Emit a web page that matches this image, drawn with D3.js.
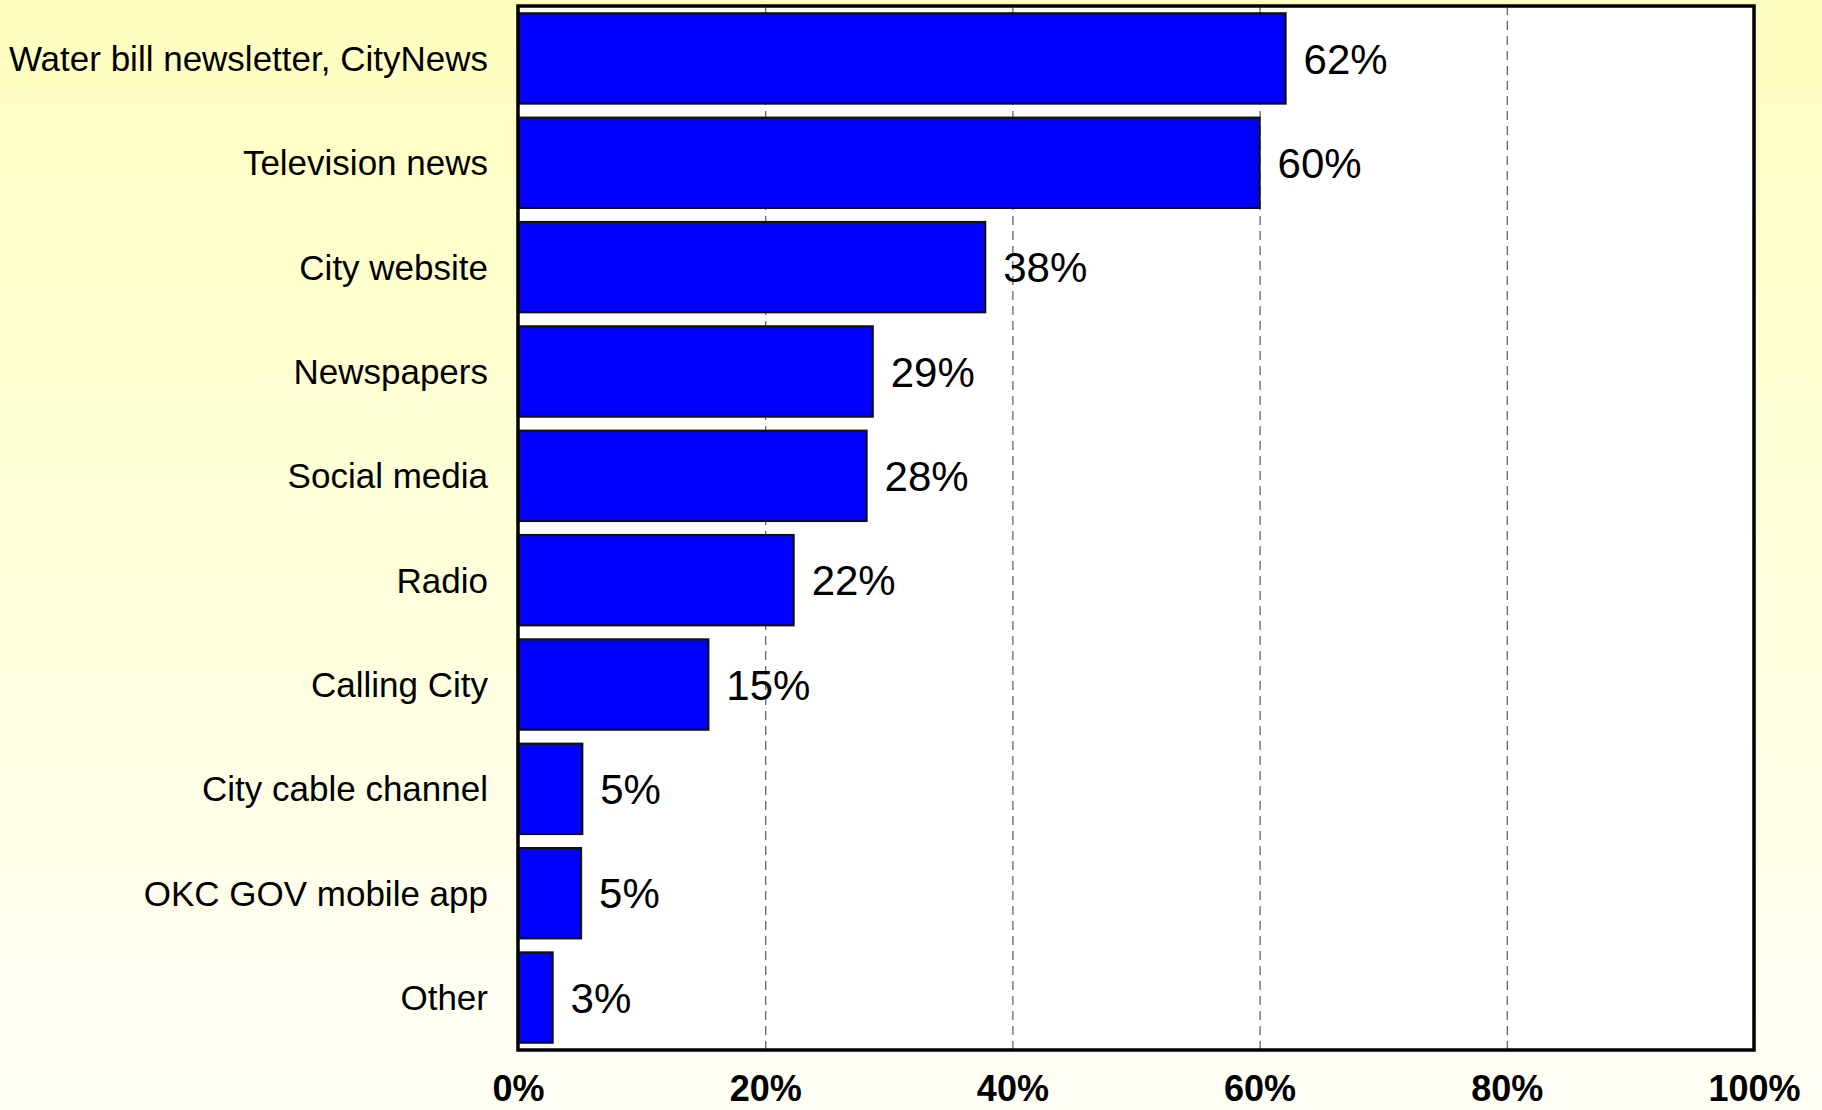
<!DOCTYPE html>
<html>
<head>
<meta charset="utf-8">
<script src="https://cdn.jsdelivr.net/npm/d3@7"></script>
<style>
html, body { margin: 0; padding: 0; }
body { width: 1822px; height: 1110px; overflow: hidden; }
</style>
</head>
<body>
<svg id="chart" width="1822" height="1110"></svg>
<script>
const categories = ["Water bill newsletter, CityNews", "Television news", "City website", "Newspapers", "Social media", "Radio", "Calling City", "City cable channel", "OKC GOV mobile app", "Other"];
const values = [62.1, 60.0, 37.8, 28.7, 28.2, 22.3, 15.4, 5.2, 5.1, 2.8];
const valueLabels = ["62%", "60%", "38%", "29%", "28%", "22%", "15%", "5%", "5%", "3%"];
const tickValues = [0, 20, 40, 60, 80, 100];
const tickLabels = ["0%", "20%", "40%", "60%", "80%", "100%"];

const W = 1822, H = 1110;
const plot = { left: 518, right: 1754, top: 6, bottom: 1050 };

const svg = d3.select("#chart");
const defs = svg.append("defs");
const grad = defs.append("linearGradient").attr("id", "bg").attr("x1", 0).attr("y1", 0).attr("x2", 0).attr("y2", 1);
grad.append("stop").attr("offset", "0%").attr("stop-color", "#FFFFC0");
grad.append("stop").attr("offset", "100%").attr("stop-color", "#FFFFF6");
svg.append("rect").attr("width", W).attr("height", H).attr("fill", "url(#bg)");

const x = d3.scaleLinear().domain([0, 100]).range([plot.left, plot.right]);
const y = d3.scaleBand().domain(categories).range([plot.top, plot.bottom]).paddingInner(0.135).paddingOuter(0.07);

// plot background
svg.append("rect").attr("x", plot.left).attr("y", plot.top)
  .attr("width", plot.right - plot.left).attr("height", plot.bottom - plot.top)
  .attr("fill", "#FFFFFF");

// gridlines
svg.append("g").selectAll("line").data(tickValues.filter(t => t > 0 && t < 100)).join("line")
  .attr("x1", d => x(d) + 0.5).attr("x2", d => x(d) + 0.5)
  .attr("y1", plot.top).attr("y2", plot.bottom)
  .attr("stroke", "#666").attr("stroke-width", 1.3).attr("stroke-dasharray", "9,6");

// bars
svg.append("g").selectAll("rect").data(values).join("rect")
  .attr("x", x(0))
  .attr("y", (d, i) => y(categories[i]))
  .attr("width", d => x(d) - x(0))
  .attr("height", y.bandwidth())
  .attr("fill", "#0000FF").attr("stroke", "#111").attr("stroke-width", 2.2);

// value labels
svg.append("g").selectAll("text").data(values).join("text")
  .attr("x", d => x(d) + 18)
  .attr("y", (d, i) => y(categories[i]) + y.bandwidth() / 2)
  .attr("dy", "0.36em")
  .attr("font-family", "Liberation Sans, Arial, sans-serif")
  .attr("font-size", 42).attr("fill", "#000")
  .text((d, i) => valueLabels[i]);

// frame
svg.append("rect").attr("x", plot.left).attr("y", plot.top)
  .attr("width", plot.right - plot.left).attr("height", plot.bottom - plot.top)
  .attr("fill", "none").attr("stroke", "#000").attr("stroke-width", 3.5);

// category axis labels
const yAxis = d3.axisLeft(y).tickSize(0).tickPadding(30);
const gy = svg.append("g").attr("transform", `translate(${plot.left},0)`).call(yAxis);
gy.select(".domain").remove();
gy.selectAll("text").attr("font-family", "Liberation Sans, Arial, sans-serif")
  .attr("font-size", 35).attr("fill", "#000").attr("dy", "0.36em");

// x axis tick labels
const xAxis = d3.axisBottom(x).tickValues(tickValues).tickSize(0).tickPadding(25)
  .tickFormat((d, i) => tickLabels[i]);
const gx = svg.append("g").attr("transform", `translate(0,${plot.bottom})`).call(xAxis);
gx.select(".domain").remove();
gx.selectAll("text").attr("font-family", "Liberation Sans, Arial, sans-serif")
  .attr("font-size", 36).attr("font-weight", "bold").attr("fill", "#000");
</script>
</body>
</html>
